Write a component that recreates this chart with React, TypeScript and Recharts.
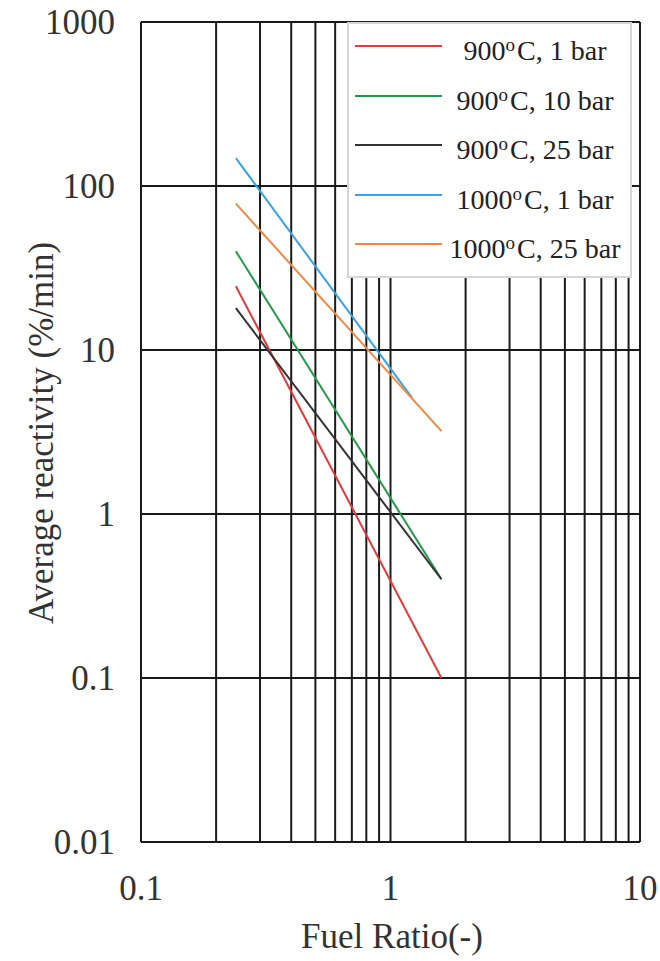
import React from 'react';
import { LineChart, Line, XAxis, YAxis, CartesianGrid, Legend } from 'recharts';

const serif = '"Liberation Serif", "Times New Roman", serif';

// x ticks on the log grid (only decades get a label)
const xTicks = [0.1, 0.2, 0.3, 0.4, 0.5, 0.6, 0.7, 0.8, 0.9, 1, 2, 3, 4, 5, 6, 7, 8, 9, 10];
const xLabels = [0.1, 1, 10];
const yTicks = [0.01, 0.1, 1, 10, 100, 1000];

// fuel ratio at both ends of each fitted line
const fuelRatio = [0.24, 1.6];
const fuelRatioBlue = [0.24, 1.22];

const r900_1 = [24.5, 0.1];
const r900_10 = [40, 0.4];
const r900_25 = [18, 0.4];
const r1000_1 = [148, 5.1];
const r1000_25 = [78, 3.2];

const names = ['900°C, 1 bar', '900°C, 10 bar', '900°C, 25 bar', '1000°C, 1 bar', '1000°C, 25 bar'];
const colors = ['#e53a3a', '#23994a', '#333333', '#3ba3e3', '#f08a42'];

const toRows = (xs: number[], ys: number[]) => xs.map((x, i) => ({ x, y: ys[i] }));

const seriesData = [
  toRows(fuelRatio, r900_1),
  toRows(fuelRatio, r900_10),
  toRows(fuelRatio, r900_25),
  toRows(fuelRatioBlue, r1000_1),
  toRows(fuelRatio, r1000_25),
];

const renderLegend = () => (
  <div
    style={{
      width: 285,
      height: 256,
      background: '#fff',
      border: '2px solid #d6d6d6',
      boxSizing: 'border-box',
      fontFamily: serif,
      fontSize: 28,
      color: '#222',
      position: 'relative',
    }}
  >
    {names.map((name, i) => {
      const [temp, rest] = name.split('°');
      return (
        <div key={name} style={{ position: 'absolute', left: 0, top: -3 + i * 49.5, width: 281, height: 50 }}>
          <div style={{ position: 'absolute', left: 6, top: 24, width: 87, height: 2, background: colors[i] }} />
          <div
            style={{
              position: 'absolute',
              left: 92,
              width: 188,
              top: 7,
              textAlign: 'center',
              lineHeight: '34px',
              whiteSpace: 'nowrap',
            }}
          >
            {temp}
            <sup style={{ fontSize: 19, verticalAlign: 9, marginRight: 2 }}>o</sup>
            {rest}
          </div>
        </div>
      );
    })}
  </div>
);

const YTitle = () => (
  <text
    x={53}
    y={433}
    transform="rotate(-90, 53, 433)"
    textAnchor="middle"
    fontFamily={serif}
    fontSize={35}
    fill="#333"
  >
    Average reactivity (%/min)
  </text>
);

const XTitle = () => (
  <text x={392} y={948} textAnchor="middle" fontFamily={serif} fontSize={35} fill="#333">
    Fuel Ratio(-)
  </text>
);

export default function App() {
  return (
    <div style={{ position: 'absolute', left: 0, top: 0, width: 660, height: 961, background: '#fff' }}>
      <LineChart width={660} height={961} margin={{ top: 22, right: 20, bottom: 59, left: 41 }}>
        <CartesianGrid stroke="#1a1a1a" strokeWidth={2} />
        <XAxis
          type="number"
          dataKey="x"
          scale="log"
          domain={[0.1, 10]}
          ticks={xTicks}
          allowDataOverflow
          interval={0}
          height={60}
          tickLine={false}
          tickMargin={27}
          tickFormatter={(v: number) => (xLabels.includes(v) ? String(v) : '')}
          axisLine={{ stroke: '#1a1a1a', strokeWidth: 2 }}
          tick={{ fontFamily: serif, fontSize: 35, fill: '#333' }}
          label={{ content: () => <XTitle /> }}
        />
        <YAxis
          type="number"
          dataKey="y"
          scale="log"
          domain={[0.01, 1000]}
          ticks={yTicks}
          allowDataOverflow
          interval={0}
          width={100}
          tickLine={false}
          tickMargin={20}
          tickFormatter={(v: number) => String(v)}
          axisLine={{ stroke: '#1a1a1a', strokeWidth: 2 }}
          tick={{ fontFamily: serif, fontSize: 35, fill: '#333' }}
          label={{ content: () => <YTitle /> }}
        />
        <Legend
          layout="vertical"
          align="center"
          verticalAlign="middle"
          content={renderLegend}
          wrapperStyle={{ left: 347, top: 22, width: 285, height: 256 }}
        />
        {seriesData.map((d, i) => (
          <Line
            key={names[i]}
            name={names[i]}
            data={d}
            dataKey="y"
            stroke={colors[i]}
            strokeWidth={2}
            dot={false}
            activeDot={false}
            isAnimationActive={false}
          />
        ))}
      </LineChart>
    </div>
  );
}
